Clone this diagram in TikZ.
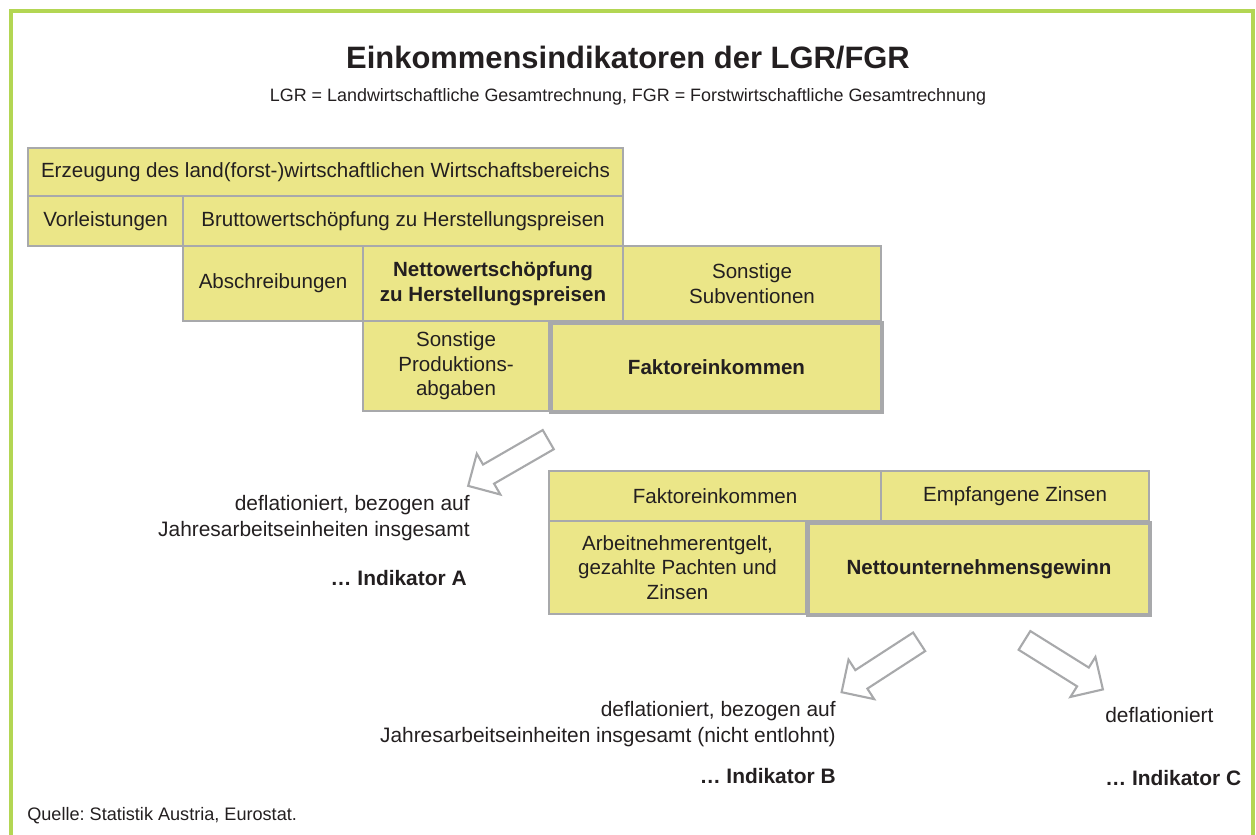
\documentclass[tikz,border=0pt]{standalone}
\usepackage{fontspec}
\setmainfont{Liberation Sans}
\usetikzlibrary{shapes.arrows, positioning}
\definecolor{lgrgelb}{HTML}{EBE688}
\definecolor{lgrgrau}{HTML}{A8A9AB}
\definecolor{lgrgruen}{HTML}{B3D653}
\definecolor{lgrtext}{HTML}{231F20}
\tikzstyle{feld} = [rectangle, anchor=north west, draw=lgrgrau, line width=1.2pt, fill=lgrgelb, inner sep=0pt, align=center, text=lgrtext, font=\fontsize{11.7}{14}\selectfont]
\tikzstyle{hauptfeld} = [feld, line width=2.3pt, font=\fontsize{11.7}{14}\selectfont\bfseries]
\tikzstyle{pfeil} = [single arrow, draw=lgrgrau, fill=white, line width=1.2pt, inner sep=0.2cm, single arrow head extend=0.25cm, minimum height=1.85cm]
\tikzstyle{notiz} = [align=right, inner sep=0pt, text=lgrtext, font=\fontsize{11.9}{15}\selectfont]
\frenchspacing

\begin{document}
\begin{tikzpicture}[x=0.02cm, y=-0.02cm]
    \useasboundingbox (0,0) rectangle (1256,834);
    % Rahmen
    \draw [lgrgruen, line width=2.3pt] (11,11) rectangle (1253,870);

    % Titel
    \node (titel) [text=lgrtext, font=\fontsize{17.6}{21}\selectfont\bfseries] at (628,58) {Einkommensindikatoren der LGR/FGR};
    \node (untertitel) [text=lgrtext, font=\fontsize{10.2}{12}\selectfont] at (628,97) {LGR = Landwirtschaftliche Gesamtrechnung, FGR = Forstwirtschaftliche Gesamtrechnung};

    % Erster Block
    \node (erz) [feld, minimum width=11.9cm, minimum height=0.96cm] at (27,147) {Erzeugung des land(forst-)wirtschaftlichen Wirtschaftsbereichs};
    \node (vorl) [feld, minimum width=3.1cm, minimum height=1cm] at (27,195) {Vorleistungen};
    \node (brutto) [feld, minimum width=8.8cm, minimum height=1cm] at (182,195) {Bruttowertschöpfung zu Herstellungspreisen};
    \node (abschr) [feld, minimum width=3.6cm, minimum height=1.5cm] at (182,245) {Abschreibungen};
    \node (netto) [feld, minimum width=5.2cm, minimum height=1.5cm, font=\fontsize{11.7}{14}\selectfont\bfseries] at (362,245) {Nettowertschöpfung\\zu Herstellungspreisen};
    \node (subv) [feld, minimum width=5.16cm, minimum height=1.5cm] at (622,245) {Sonstige\\Subventionen};
    \node (abgaben) [feld, minimum width=3.72cm, minimum height=1.8cm] at (362,320) {Sonstige\\Produktions-\\abgaben};
    \node (faktor) [hauptfeld, minimum width=6.62cm, minimum height=1.78cm] at (549,321) {Faktoreinkommen};

    % Zweiter Block
    \node (faktorb) [feld, minimum width=6.64cm, minimum height=1cm] at (548,470) {Faktoreinkommen};
    \node (zinsen) [feld, minimum width=5.36cm, minimum height=1cm] at (880,470) {Empfangene Zinsen};
    \node (arbeit) [feld, minimum width=5.14cm, minimum height=1.86cm] at (548,520) {Arbeitnehmerentgelt,\\gezahlte Pachten und\\Zinsen};
    \node (nug) [hauptfeld, minimum width=6.84cm, minimum height=1.84cm] at (806,521) {Nettounternehmensgewinn};

    % Pfeile
    \node (pfeila) [pfeil, rotate=210] at (513,460) {};
    \node (pfeilb) [pfeil, rotate=213] at (885,664) {};
    \node (pfeilc) [pfeil, rotate=-32] at (1059,662) {};

    % Indikatoren
    \node (defla) [notiz, anchor=east] at (470,518) {deflationiert, bezogen auf\\Jahresarbeitseinheiten insgesamt};
    \node (inda) [notiz, anchor=east, font=\fontsize{11.9}{15}\selectfont\bfseries] at (467,578) {… Indikator A};
    \node (deflb) [notiz, anchor=east] at (836,724) {deflationiert, bezogen auf\\Jahresarbeitseinheiten insgesamt (nicht entlohnt)};
    \node (indb) [notiz, anchor=east, font=\fontsize{11.9}{15}\selectfont\bfseries] at (836,776) {… Indikator B};
    \node (deflc) [notiz, anchor=west] at (1105,715) {deflationiert};
    \node (indc) [notiz, anchor=west, font=\fontsize{11.9}{15}\selectfont\bfseries] at (1105,778) {… Indikator C};

    % Quelle
    \node (quelle) [anchor=west, inner sep=0pt, text=lgrtext, font=\fontsize{10.3}{12}\selectfont] at (27,816) {Quelle: Statistik Austria, Eurostat.};
\end{tikzpicture}
\end{document}
